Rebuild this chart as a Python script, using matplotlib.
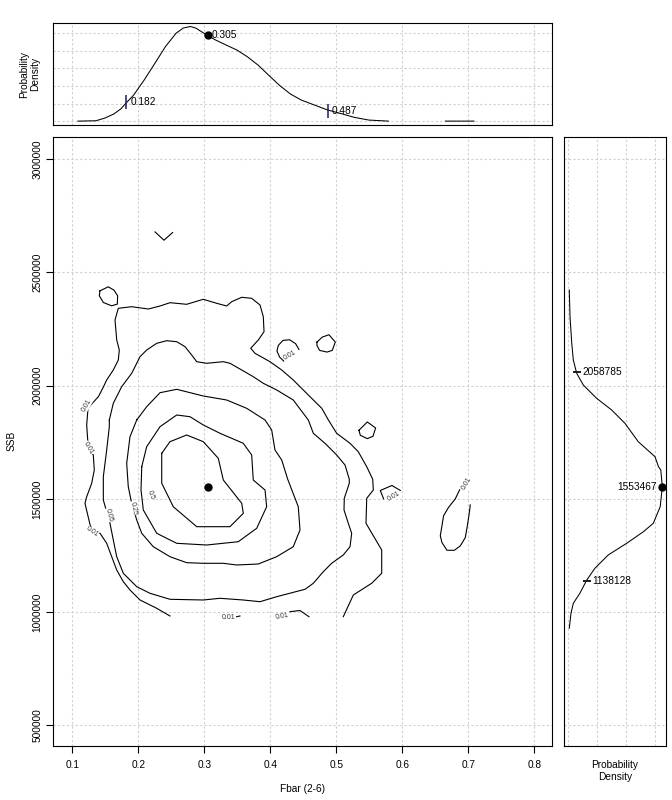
import numpy as np
import matplotlib.pyplot as plt

plt.rcParams['font.family'] = ['Liberation Sans', 'DejaVu Sans']
plt.rcParams['font.size'] = 7.3

# point estimate and 5/95% quantiles
fbar_est, ssb_est = 0.305, 1553467
fbar_q = [0.182, 0.487]
ssb_q = [1138128, 2058785]

# marginal density of Fbar (top panel); nan = break in the curve
fbar_x = [0.1086, 0.1357, 0.1492, 0.1627, 0.1735, 0.1816, 0.1924, 0.2086, 0.2249, 0.2411,
          0.2573, 0.2681, 0.2789, 0.2870, 0.2951, 0.3049, 0.3168, 0.3330, 0.3492, 0.3654,
          0.3816, 0.3978, 0.4141, 0.4303, 0.4465, 0.4627, 0.4789, 0.4870, 0.5059, 0.5276,
          0.5492, 0.5789, np.nan, 0.6654, 0.7086]
fbar_dens = [0.02, 0.04, 0.19, 0.42, 0.71, 1.05, 1.47, 2.33, 3.28, 4.24,
             5.00, 5.29, 5.38, 5.29, 5.10, 4.87, 4.62, 4.33, 4.05, 3.66,
             3.19, 2.61, 2.04, 1.56, 1.22, 0.99, 0.76, 0.65, 0.46, 0.23,
             0.08, 0.02, np.nan, 0.02, 0.02]
fbar_mark_dens = [1.09, 0.62]
fbar_est_dens = 4.87

# marginal density of SSB (right panel), density in 1e-6
ssb_k = [2422.7, 2304.7, 2187.3, 2113.5, 2054.8, 2003.0, 1944.3, 1892.6, 1833.8, 1752.6,
         1686.4, 1642.3, 1627.6, 1553.5, 1465.6, 1392.2, 1355.2, 1303.9, 1252.2, 1193.5,
         1141.8, 1083.0, 1038.8, 994.6, 928.4]
ssb_dens = [0.017, 0.03, 0.06, 0.087, 0.145, 0.26, 0.49, 0.75, 0.98, 1.21,
            1.50, 1.56, 1.60, 1.626, 1.59, 1.47, 1.30, 1.01, 0.69, 0.46,
            0.32, 0.20, 0.087, 0.047, 0.017]
ssb_mark_dens = [0.32, 0.145]
ssb_est_dens = 1.626

# contour lines, (Fbar, SSB in thousands)
c001_main = [(0.248, 982.7), (0.2279, 1016.7), (0.2026, 1053.4), (0.1874, 1097.6), (0.1773, 1134.2),
             (0.1673, 1185.9), (0.1597, 1244.7), (0.1521, 1303.8), (0.142, 1348.0), (0.1294, 1355.1),
             (0.1192, 1480.5), (0.1218, 1509.7), (0.1294, 1568.9), (0.1333, 1627.6), (0.1318, 1693.9),
             (0.1242, 1723.5), (0.1218, 1826.4), (0.1238, 1901.5), (0.1395, 1951.4), (0.1461, 1988.5),
             (0.1521, 2025.1), (0.1621, 2069.3), (0.1697, 2113.5), (0.1712, 2157.6), (0.1673, 2201.8),
             (0.1647, 2290.2), (0.1697, 2341.8), (0.1900, 2348.9), (0.2152, 2338.7), (0.2329, 2352.0),
             (0.248, 2366.6), (0.2733, 2359.5), (0.2985, 2381.6), (0.3188, 2363.9), (0.3339, 2352.0),
             (0.3415, 2371.0), (0.3567, 2390.4), (0.3718, 2386.0), (0.3844, 2356.4), (0.3894, 2304.8),
             (0.3905, 2238.5), (0.3818, 2201.8), (0.3703, 2165.2), (0.3768, 2143.1), (0.3995, 2106.0),
             (0.4173, 2069.3), (0.4348, 2025.1), (0.4602, 1951.4), (0.4780, 1900.1), (0.4880, 1848.5),
             (0.5006, 1789.7), (0.5208, 1745.5), (0.5333, 1708.4), (0.5461, 1642.2), (0.5552, 1586.5),
             (0.5561, 1539.3), (0.5461, 1502.5), (0.5450, 1392.2), (0.5688, 1274.2), (0.5688, 1171.3),
             (0.5536, 1127.2), (0.5258, 1075.5), (0.5106, 979.6)]
c001_bottom1 = [(0.349, 979.6), (0.354, 982.7)]
c001_bottom2 = [(0.4298, 1001.7), (0.4450, 1007.0), (0.4586, 979.6)]
c001_vee = [(0.2253, 2679.4), (0.2389, 2642.6), (0.2520, 2676.5)]
c001_loop1 = [(0.1419, 2419.1), (0.1545, 2436.8), (0.1631, 2422.1), (0.1687, 2397.1), (0.1682, 2360.3),
              (0.1596, 2352.9), (0.147, 2367.6), (0.1409, 2397.1), (0.1419, 2419.1)]
c001_loop2 = [(0.4434, 2160.3), (0.4384, 2185.3), (0.4293, 2202.9), (0.4192, 2200.0), (0.4121, 2177.9),
              (0.4101, 2152.9), (0.4141, 2126.5), (0.4202, 2108.8)]
c001_loop3 = [(0.4707, 2192.6), (0.4788, 2214.7), (0.4889, 2225.0), (0.4985, 2192.6), (0.4939, 2155.9),
              (0.4859, 2148.5), (0.4747, 2155.9), (0.4707, 2177.9), (0.4707, 2192.6)]
c001_loop4 = [(0.5343, 1802.9), (0.547, 1839.7), (0.5596, 1813.2), (0.5556, 1776.5), (0.547, 1766.2),
              (0.5364, 1780.9), (0.5343, 1802.9)]
c001_piece5 = [(0.5717, 1500.0), (0.5667, 1537.1), (0.5843, 1559.3), (0.597, 1537.1)]
c001_loop6 = [(0.6869, 1540.1), (0.6803, 1500.0), (0.6702, 1462.9), (0.6626, 1425.8), (0.6576, 1336.8),
              (0.6601, 1307.1), (0.6677, 1273.0), (0.6788, 1273.0), (0.6879, 1292.3), (0.6955, 1329.4),
              (0.699, 1388.7), (0.7020, 1448.1), (0.7030, 1473.3)]
c005 = [(0.1561, 1848.5), (0.1621, 1922.2), (0.1748, 1995.5), (0.19, 2054.7), (0.2026, 2128.1),
        (0.2127, 2157.6), (0.2279, 2187.2), (0.2430, 2198.7), (0.2582, 2194.3), (0.2708, 2172.2),
        (0.2809, 2135.6), (0.2885, 2106.0), (0.3036, 2098.9), (0.3288, 2106.0), (0.3389, 2098.9),
        (0.3567, 2069.3), (0.3742, 2039.7), (0.3894, 2010.6), (0.4097, 1981.0), (0.4348, 1936.8),
        (0.4576, 1848.5), (0.4652, 1789.7), (0.4829, 1745.5), (0.5006, 1693.9), (0.5132, 1649.7),
        (0.5197, 1586.5), (0.5197, 1568.9), (0.5121, 1502.5), (0.5117, 1450.9), (0.5182, 1392.2),
        (0.5233, 1348.0), (0.5208, 1288.8), (0.5106, 1252.2), (0.4930, 1215.5), (0.4803, 1178.4),
        (0.4652, 1127.2), (0.4526, 1100.7), (0.4097, 1068.0), (0.3844, 1045.9), (0.3591, 1053.4),
        (0.3238, 1060.9), (0.2985, 1053.4), (0.248, 1056.5), (0.2177, 1083.0), (0.1976, 1112.2),
        (0.1773, 1171.3), (0.1673, 1244.7), (0.1621, 1318.4), (0.1571, 1392.2), (0.1470, 1495.1),
        (0.1470, 1598.0), (0.1521, 1715.9), (0.1561, 1818.9), (0.1561, 1848.5)]
c025 = [(0.1976, 1848.5), (0.2127, 1907.2), (0.2329, 1969.0), (0.2582, 1984.0), (0.2985, 1954.5),
        (0.3339, 1936.8), (0.3642, 1900.1), (0.392, 1848.5), (0.4021, 1804.3), (0.4071, 1715.9),
        (0.4173, 1671.8), (0.4264, 1586.5), (0.4424, 1465.5), (0.445, 1362.6), (0.4348, 1288.8),
        (0.4097, 1244.7), (0.3818, 1212.4), (0.3491, 1208.0), (0.3288, 1215.5), (0.2985, 1215.5),
        (0.2733, 1218.2), (0.248, 1244.7), (0.2227, 1288.8), (0.2052, 1348.0), (0.1976, 1406.8),
        (0.19, 1480.5), (0.1848, 1553.9), (0.1824, 1657.2), (0.1874, 1774.7), (0.1976, 1848.5)]
c050 = [(0.2052, 1642.2), (0.2127, 1730.5), (0.2329, 1818.9), (0.2582, 1870.5), (0.2783, 1863.0),
        (0.2985, 1826.4), (0.3238, 1789.7), (0.3591, 1745.5), (0.3718, 1693.9), (0.3742, 1583.4),
        (0.392, 1539.3), (0.3945, 1465.5), (0.3794, 1370.1), (0.3515, 1310.9), (0.3036, 1296.3),
        (0.2582, 1303.8), (0.2279, 1348.0), (0.2076, 1450.9), (0.2041, 1539.3), (0.2052, 1642.2)]
c075 = [(0.2355, 1701.4), (0.248, 1752.6), (0.2733, 1782.2), (0.2985, 1752.6), (0.3212, 1679.3),
        (0.3288, 1583.4), (0.3567, 1480.5), (0.3591, 1436.3), (0.3389, 1377.2), (0.2885, 1377.2),
        (0.253, 1465.5), (0.2355, 1568.9), (0.2355, 1701.4)]

contour_labels = [("0.01", 0.1218, 1914.7, 60), ("0.01", 0.1242, 1723.5, -60),
                  ("0.01", 0.1294, 1355.1, -35), ("0.05", 0.1561, 1428.8, -75),
                  ("0.25", 0.1924, 1458.4, -80), ("0.5", 0.2188, 1517.2, -70),
                  ("0.01", 0.3364, 977.0, 0), ("0.01", 0.4173, 979.6, 10),
                  ("0.01", 0.4293, 2133.8, 30), ("0.01", 0.5869, 1510.4, 30),
                  ("0.01", 0.698, 1566.8, 60)]

xticks = [0.1, 0.2, 0.3, 0.4, 0.5, 0.6, 0.7, 0.8]
yticks = [500000, 1000000, 1500000, 2000000, 2500000, 3000000]
xlim = (0.0712, 0.8273)
ylim = (408500, 3099800)

W, H = 672, 800
fig = plt.figure(figsize=(W / 100, H / 100), dpi=100)
ax = fig.add_axes([53.3 / W, 1 - 746 / H, 499 / W, 609.3 / H])
ax_t = fig.add_axes([53.3 / W, 1 - 125 / H, 499 / W, 101.7 / H])
ax_r = fig.add_axes([564.3 / W, 1 - 746 / H, 101.7 / W, 609.3 / H])

grid_kw = dict(color='#cfcfcf', linestyle=(0, (2, 2)), linewidth=0.8)
for a in (ax, ax_t, ax_r):
    for s in a.spines.values():
        s.set_linewidth(0.8)
    a.grid(True, **grid_kw)
    a.set_axisbelow(True)

# main panel
pieces = [c001_main, c001_bottom1, c001_bottom2, c001_vee, c001_loop1, c001_loop2,
          c001_loop3, c001_loop4, c001_piece5, c001_loop6, c005, c025, c050, c075]
for p in pieces:
    xs = [q[0] for q in p]
    ys = [q[1] * 1000 for q in p]
    ax.plot(xs, ys, color='black', lw=0.8)
for txt, x, y, rot in contour_labels:
    ax.text(x, y * 1000, txt, fontsize=5, rotation=rot, ha='center', va='center',
            color='#333333', rotation_mode='anchor',
            bbox=dict(fc='white', ec='none', pad=0.2))
ax.plot(fbar_est, ssb_est, 'o', color='black', ms=5)
ax.set_xlim(xlim)
ax.set_ylim(ylim)
ax.set_xticks(xticks)
ax.set_xticklabels([f"{v:.1f}" for v in xticks])
ax.set_yticks(yticks)
ax.set_yticklabels([str(v) for v in yticks], rotation=90, va='center')
ax.tick_params(axis='x', length=5, width=0.8, pad=5)
ax.tick_params(axis='y', length=5, width=0.8, pad=3)

# top panel
ax_t.plot(fbar_x, fbar_dens, color='black', lw=0.75)
ax_t.plot(fbar_q, fbar_mark_dens, '|', color='#1c1c5c', ms=10, mew=1.1)
ax_t.plot(fbar_est, fbar_est_dens, 'o', color='black', ms=5)
for v, d in zip(fbar_q + [fbar_est], fbar_mark_dens + [fbar_est_dens]):
    ax_t.annotate(f"{v:.3f}", (v, d), xytext=(3, 0), textcoords='offset points',
                  va='center', ha='left', fontsize=7.3)
ax_t.set_xlim(xlim)
ax_t.set_ylim(-0.2, 5.56)
ax_t.set_xticks(xticks)
ax_t.set_yticks([0, 1, 2, 3, 4, 5])
ax_t.tick_params(length=0, labelbottom=False, labelleft=False)

# right panel
ssb_y = [v * 1000 for v in ssb_k]
ax_r.plot(ssb_dens, ssb_y, color='black', lw=0.75)
ax_r.plot(ssb_mark_dens, ssb_q, '_', color='#1c1c1c', ms=6, mew=1.4)
ax_r.plot(ssb_est_dens, ssb_est, 'o', color='black', ms=5)
for v, d in zip(ssb_q, ssb_mark_dens):
    ax_r.annotate(f"{v}", (d, v), xytext=(4, 0), textcoords='offset points',
                  va='center', ha='left', fontsize=7.3)
ax_r.annotate(f"{ssb_est}", (ssb_est_dens, ssb_est), xytext=(-4, 0),
              textcoords='offset points', va='center', ha='right', fontsize=7.3)
ax_r.set_ylim(ylim)
ax_r.set_xlim(-0.069, 1.69)
ax_r.set_yticks(yticks)
ax_r.set_xticks([0, 0.5, 1.0, 1.5])
ax_r.tick_params(length=0, labelbottom=False, labelleft=False)

# axis titles
fig.text(302.8 / W, 1 - 789 / H, "Fbar (2-6)", ha='center', va='center', fontsize=7.3)
fig.text(12 / W, 1 - 441 / H, "SSB", ha='center', va='center', rotation=90, fontsize=7.3)
fig.text(30 / W, 1 - 74 / H, "Probability\nDensity", ha='center', va='center',
         rotation=90, fontsize=7.3, linespacing=1.15)
fig.text(615 / W, 1 - 771 / H, "Probability\nDensity", ha='center', va='center',
         fontsize=7.3, linespacing=1.15)

fig.savefig("out.png", dpi=100)
